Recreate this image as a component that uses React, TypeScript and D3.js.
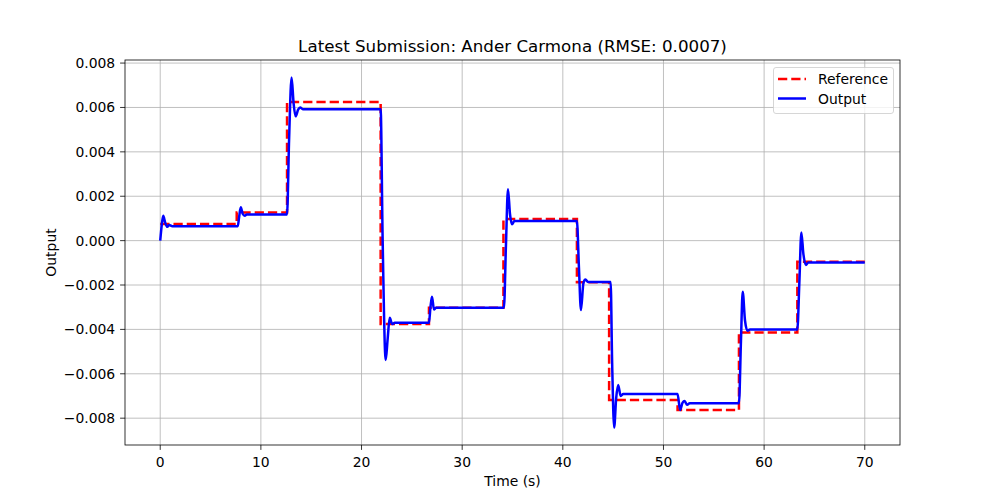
import React from 'react';
import * as d3 from 'd3';

// Reference signal (step function): change times and levels
const refTimes = [0, 7.6, 12.6, 21.9, 26.7, 34.1, 41.4, 44.6, 51.4, 57.5, 63.3, 70];
const refValues = [0.00075, 0.00127, 0.00625, -0.00376, -0.00303, 0.00097, -0.00188, -0.00718, -0.00763, -0.00414, -0.00095, -0.00095];

// Output signal
const outTimes = [
  0, 0.15, 0.3, 0.5, 0.7, 0.9, 1.2,
  7.7, 7.85, 8.0, 8.2, 8.4, 8.6,
  12.6, 12.8, 13.05, 13.25, 13.45, 13.7, 13.9, 14.2,
  21.9, 22.1, 22.4, 22.6, 22.8, 23.05, 23.3,
  26.7, 26.85, 27.0, 27.2, 27.4,
  34.15, 34.35, 34.55, 34.75, 34.95, 35.2,
  41.4, 41.6, 41.8, 42.05, 42.25, 42.5,
  44.75, 44.9, 45.1, 45.3, 45.5, 45.75, 46.0,
  51.4, 51.65, 51.9, 52.1, 52.35, 52.6,
  57.5, 57.7, 57.87, 58.1, 58.35, 58.6,
  63.3, 63.5, 63.7, 63.9, 64.15, 64.4,
  70,
];
const outValues = [
  0, 0.0007, 0.00112, 0.0008, 0.00062, 0.0007, 0.00065,
  0.00065, 0.0011, 0.0015, 0.0012, 0.00112, 0.00118,
  0.00118, 0.0045, 0.00735, 0.0062, 0.0056, 0.0059, 0.006, 0.00592,
  0.00592, 0.0, -0.00538, -0.0044, -0.00348, -0.00376, -0.0037,
  -0.0037, -0.003, -0.00253, -0.0031, -0.00303,
  -0.00303, -0.0002, 0.00232, 0.0012, 0.00074, 0.00088,
  0.00088, -0.0012, -0.00313, -0.0019, -0.00175, -0.00186,
  -0.00186, -0.0055, -0.00842, -0.0071, -0.00651, -0.007, -0.00691,
  -0.00691, -0.00763, -0.0073, -0.00723, -0.0074, -0.00733,
  -0.00733, -0.0045, -0.0023, -0.0036, -0.00406, -0.004,
  -0.004, -0.0019, 0.00037, -0.0006, -0.0011, -0.00098,
  -0.00098,
];

const xTicks = [0, 10, 20, 30, 40, 50, 60, 70];
const yTicks = [-0.008, -0.006, -0.004, -0.002, 0, 0.002, 0.004, 0.006, 0.008];

const W = 1000;
const H = 500;
const margin = { top: 60, right: 100, bottom: 55, left: 125 };
const font = 'DejaVu Sans, sans-serif';
const lw = 2.5;
const dash = '9.25,4';

const App: React.FC = () => {
  const x0 = margin.left;
  const x1 = W - margin.right;
  const y0 = margin.top;
  const y1 = H - margin.bottom;

  // matplotlib-like 5% padding around data range
  const allX = [...refTimes, ...outTimes];
  const allY = [...refValues, ...outValues];
  const [xmin, xmax] = d3.extent(allX) as [number, number];
  const [ymin, ymax] = d3.extent(allY) as [number, number];
  const xp = (xmax - xmin) * 0.05;
  const yp = (ymax - ymin) * 0.05;

  const xScale = d3.scaleLinear().domain([xmin - xp, xmax + xp]).range([x0, x1]);
  const yScale = d3.scaleLinear().domain([ymin - yp, ymax + yp]).range([y1, y0]);

  const refLine = d3
    .line<number>()
    .x((_, i) => xScale(refTimes[i]))
    .y((d) => yScale(d))
    .curve(d3.curveStepAfter);

  const outLine = d3
    .line<number>()
    .x((_, i) => xScale(outTimes[i]))
    .y((d) => yScale(d))
    .curve(d3.curveMonotoneX);

  const fmt = (v: number) => d3.format('.3f')(v).replace('-', '\u2212');

  return (
    <svg
      width={W}
      height={H}
      style={{ position: 'absolute', left: 0, top: 0, background: '#fff' }}
      fontFamily={font}
    >
      <rect x={0} y={0} width={W} height={H} fill="#fff" />
      <defs>
        <clipPath id="plot-area">
          <rect x={x0} y={y0} width={x1 - x0} height={y1 - y0} />
        </clipPath>
      </defs>

      {/* grid */}
      <g stroke="#b0b0b0" strokeWidth={0.8}>
        {xTicks.map((t) => (
          <line key={`gx${t}`} x1={xScale(t)} x2={xScale(t)} y1={y0} y2={y1} />
        ))}
        {yTicks.map((t) => (
          <line key={`gy${t}`} x1={x0} x2={x1} y1={yScale(t)} y2={yScale(t)} />
        ))}
      </g>

      {/* series */}
      <g clipPath="url(#plot-area)">
        <path
          d={refLine(refValues) || ''}
          fill="none"
          stroke="#ff0000"
          strokeWidth={lw}
          strokeDasharray={dash}
        />
        <path
          d={outLine(outValues) || ''}
          fill="none"
          stroke="#0000ff"
          strokeWidth={lw}
          strokeLinejoin="round"
        />
      </g>

      {/* spines */}
      <rect x={x0} y={y0} width={x1 - x0} height={y1 - y0} fill="none" stroke="#000" strokeWidth={0.8} />

      {/* axes */}
      <g fontSize={13.9} fill="#000">
        {xTicks.map((t) => (
          <g key={`tx${t}`}>
            <line x1={xScale(t)} x2={xScale(t)} y1={y1} y2={y1 + 4.9} stroke="#000" strokeWidth={0.8} />
            <text x={xScale(t)} y={y1 + 22} textAnchor="middle">{t}</text>
          </g>
        ))}
        {yTicks.map((t) => (
          <g key={`ty${t}`}>
            <line x1={x0 - 4.9} x2={x0} y1={yScale(t)} y2={yScale(t)} stroke="#000" strokeWidth={0.8} />
            <text x={x0 - 9.8} y={yScale(t)} textAnchor="end" dominantBaseline="central">{fmt(t)}</text>
          </g>
        ))}
        <text x={(x0 + x1) / 2} y={486} textAnchor="middle">Time (s)</text>
        <text
          transform={`translate(56,${(y0 + y1) / 2}) rotate(-90)`}
          textAnchor="middle"
        >
          Output
        </text>
      </g>

      {/* title */}
      <text x={(x0 + x1) / 2} y={52} textAnchor="middle" fontSize={16.7} fill="#000">
        Latest Submission: Ander Carmona (RMSE: 0.0007)
      </text>

      {/* legend */}
      <g>
        <rect x={773.5} y={67.5} width={120} height={46} rx={2.5} fill="#fff" fillOpacity={0.8} stroke="#cccccc" strokeWidth={0.8} />
        <line x1={778} x2={806} y1={79} y2={79} stroke="#ff0000" strokeWidth={lw} strokeDasharray={dash} />
        <line x1={778} x2={806} y1={98.5} y2={98.5} stroke="#0000ff" strokeWidth={lw} />
        <text x={818} y={79} fontSize={13.9} dominantBaseline="central">Reference</text>
        <text x={818} y={98.5} fontSize={13.9} dominantBaseline="central">Output</text>
      </g>
    </svg>
  );
};

export default App;
